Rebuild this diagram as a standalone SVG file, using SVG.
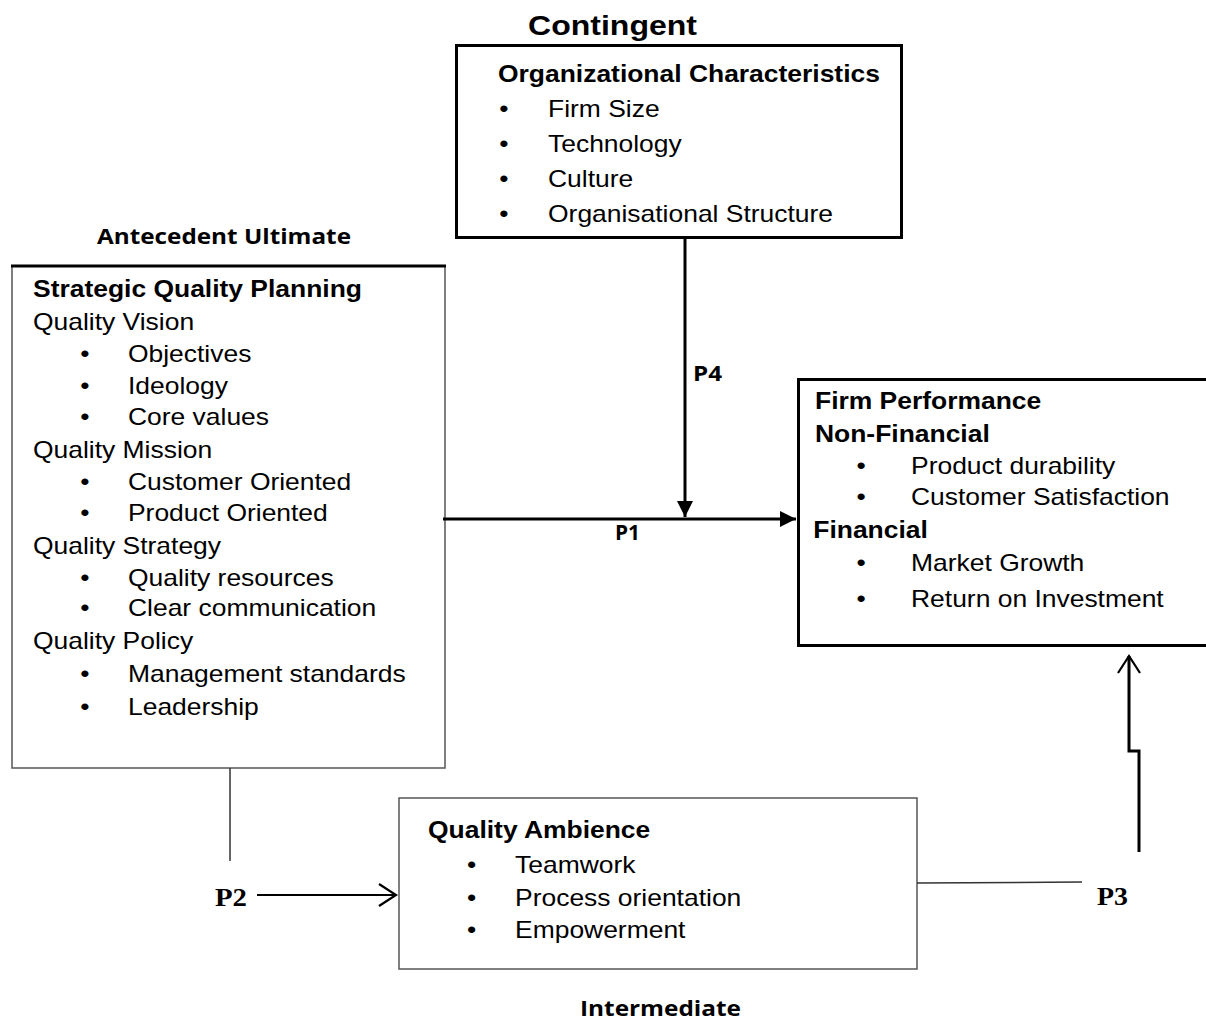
<svg xmlns="http://www.w3.org/2000/svg" width="1206" height="1021" viewBox="0 0 1206 1021">
  <style>
    .body { font-family: "Liberation Sans", Arial, sans-serif; font-size: 23px; fill: #000; }
    .bold { font-weight: bold; }
    .cal { font-family: "Open Sans", "Liberation Sans", sans-serif; font-weight: bold; font-size: 21.5px; fill: #000; }
    .tnr { font-family: "Liberation Serif", "Times New Roman", serif; font-weight: bold; font-size: 26px; fill: #000; }
    .thick { fill: none; stroke: #000; stroke-width: 3; }
    .thin { fill: none; stroke: #555; stroke-width: 1.5; }
  </style>
  <defs>
    <marker id="solid" markerUnits="userSpaceOnUse" markerWidth="18" markerHeight="18" refX="16" refY="8" orient="auto">
      <path d="M0,0 L16,8 L0,16 Z" fill="#000"/>
    </marker>
    <marker id="open" markerUnits="userSpaceOnUse" markerWidth="22" markerHeight="26" refX="19" refY="12" orient="auto">
      <path d="M2,1 L19,12 L2,23" fill="none" stroke="#000" stroke-width="2.2"/>
    </marker>
  </defs>
  <rect width="1206" height="1021" fill="#fff"/>

  <!-- free-standing labels -->
  <text class="body bold" x="528" y="35" style="font-size:28px" textLength="169" lengthAdjust="spacingAndGlyphs">Contingent</text>
  <text class="cal" x="97" y="244" textLength="254" lengthAdjust="spacingAndGlyphs">Antecedent Ultimate</text>
  <text class="cal" x="580" y="1016" textLength="161" lengthAdjust="spacingAndGlyphs">Intermediate</text>

  <!-- Organizational characteristics -->
  <g id="org">
    <rect class="thick" x="456.5" y="45.5" width="445" height="192"/>
    <g class="body" transform="translate(498,0) scale(1.15,1)">
      <text class="bold" x="0" y="82">Organizational Characteristics</text>
      <text x="1" y="117">•</text><text x="43.5" y="117">Firm Size</text>
      <text x="1" y="152">•</text><text x="43.5" y="152">Technology</text>
      <text x="1" y="187">•</text><text x="43.5" y="187">Culture</text>
      <text x="1" y="222">•</text><text x="43.5" y="222">Organisational Structure</text>
    </g>
  </g>

  <!-- Strategic quality planning -->
  <g id="sqp">
    <path class="thin" d="M12,266 V768 H445 V266"/>
    <line x1="11" y1="266" x2="446" y2="266" stroke="#000" stroke-width="3"/>
    <g class="body" transform="translate(33,0) scale(1.15,1)">
      <text class="bold" x="0" y="297">Strategic Quality Planning</text>
      <text x="0" y="330">Quality Vision</text>
      <text x="41" y="362">•</text><text x="82.6" y="362">Objectives</text>
      <text x="41" y="394">•</text><text x="82.6" y="394">Ideology</text>
      <text x="41" y="425">•</text><text x="82.6" y="425">Core values</text>
      <text x="0" y="458">Quality Mission</text>
      <text x="41" y="490">•</text><text x="82.6" y="490">Customer Oriented</text>
      <text x="41" y="521">•</text><text x="82.6" y="521">Product Oriented</text>
      <text x="0" y="554">Quality Strategy</text>
      <text x="41" y="586">•</text><text x="82.6" y="586">Quality resources</text>
      <text x="41" y="616">•</text><text x="82.6" y="616">Clear communication</text>
      <text x="0" y="649">Quality Policy</text>
      <text x="41" y="682">•</text><text x="82.6" y="682">Management standards</text>
      <text x="41" y="715">•</text><text x="82.6" y="715">Leadership</text>
    </g>
  </g>

  <!-- Firm performance -->
  <g id="perf">
    <rect class="thick" x="798.5" y="379.5" width="420" height="266"/>
    <g class="body" transform="translate(815,0) scale(1.15,1)">
      <text class="bold" x="0" y="409">Firm Performance</text>
      <text class="bold" x="0" y="442">Non-Financial</text>
      <text x="36" y="474">•</text><text x="83.5" y="474">Product durability</text>
      <text x="36" y="505">•</text><text x="83.5" y="505">Customer Satisfaction</text>
      <text class="bold" x="-1.5" y="538">Financial</text>
      <text x="36" y="571">•</text><text x="83.5" y="571">Market Growth</text>
      <text x="36" y="607">•</text><text x="83.5" y="607">Return on Investment</text>
    </g>
  </g>

  <!-- Quality ambience -->
  <g id="ambience">
    <rect class="thin" x="399" y="798" width="518" height="171"/>
    <g class="body" transform="translate(428,0) scale(1.15,1)">
      <text class="bold" x="0" y="838">Quality Ambience</text>
      <text x="34" y="873">•</text><text x="75.7" y="873">Teamwork</text>
      <text x="34" y="906">•</text><text x="75.7" y="906">Process orientation</text>
      <text x="34" y="938">•</text><text x="75.7" y="938">Empowerment</text>
    </g>
  </g>

  <!-- connectors and path labels -->
  <g id="links">
    <line x1="443" y1="519" x2="796" y2="519" stroke="#000" stroke-width="3" marker-end="url(#solid)"/>
    <line x1="685" y1="237" x2="685" y2="517" stroke="#000" stroke-width="3" marker-end="url(#solid)"/>
    <line x1="230" y1="768" x2="230" y2="861" stroke="#333" stroke-width="1.5"/>
    <line x1="257" y1="895" x2="396" y2="895" stroke="#000" stroke-width="2.2" marker-end="url(#open)"/>
    <line x1="917" y1="883" x2="1082" y2="882" stroke="#333" stroke-width="1.5"/>
    <path d="M1139,852 V751 H1129 V656" fill="none" stroke="#000" stroke-width="3" marker-end="url(#open)"/>
    <text class="cal" x="615" y="540" textLength="25" lengthAdjust="spacingAndGlyphs">P1</text>
    <text class="cal" x="693" y="381" textLength="29" lengthAdjust="spacingAndGlyphs">P4</text>
    <text class="tnr" x="215" y="906" textLength="32" lengthAdjust="spacingAndGlyphs">P2</text>
    <text class="tnr" x="1097" y="905" textLength="31" lengthAdjust="spacingAndGlyphs">P3</text>
  </g>
</svg>
